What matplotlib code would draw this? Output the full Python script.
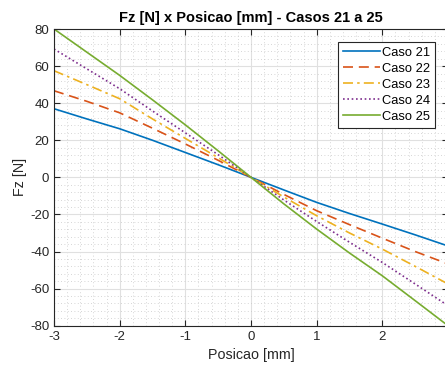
import matplotlib
matplotlib.use("Agg")
import matplotlib.pyplot as plt
from matplotlib.ticker import MultipleLocator

plt.rcParams['font.family'] = ['Liberation Sans', 'DejaVu Sans']
plt.rcParams['axes.unicode_minus'] = False

# Posicao [mm]
posicao = [-3, -2.5, -2, -1.5, -1, -0.5, 0, 0.5, 1, 1.5, 2, 2.5, 3]

# Fz [N] for each case
caso21 = [37.0, 31.5, 26.2, 20.0, 13.4, 6.8, 0, -6.8, -13.5, -19.5, -25.2, -31.0, -37.0]
caso22 = [46.7, 41.0, 34.8, 26.5, 18.0, 9.2, 0, -9.2, -18.0, -25.5, -32.8, -40.0, -46.7]
caso23 = [57.5, 50.0, 42.4, 31.5, 21.0, 10.6, 0, -10.6, -20.7, -30.0, -38.7, -48.0, -57.5]
caso24 = [69.2, 58.5, 47.8, 35.8, 24.0, 12.2, 0, -12.2, -23.8, -35.0, -45.9, -57.5, -69.2]
caso25 = [80.0, 67.5, 55.0, 41.8, 28.3, 14.3, 0, -14.3, -27.9, -40.8, -53.1, -66.5, -80.0]

labels = ['Caso 21', 'Caso 22', 'Caso 23', 'Caso 24', 'Caso 25']
series = [caso21, caso22, caso23, caso24, caso25]
colors = ['#0072BD', '#D95319', '#EDB120', '#7E2F8E', '#77AC30']
styles = ['-', (0, (6, 3.5)), (0, (6, 2.5, 1.5, 2.5)), (0, (1, 1.6)), '-']

fig = plt.figure(figsize=(4.45, 3.72), dpi=100)
ax = fig.add_axes([54 / 445, 1 - 325.7 / 372, (448 - 54) / 445, (325.7 - 29) / 372])

for ys, lab, c, ls in zip(series, labels, colors, styles):
    ax.plot(posicao, ys, color=c, linestyle=ls, linewidth=1.2, label=lab)

ax.set_xlim(-3, 3)
ax.set_ylim(-80, 80)
ax.xaxis.set_major_locator(MultipleLocator(1))
ax.yaxis.set_major_locator(MultipleLocator(20))
ax.xaxis.set_minor_locator(MultipleLocator(0.2))
ax.yaxis.set_minor_locator(MultipleLocator(4))

ax.grid(True, which='major', color='#E0E0E0', linestyle='-', linewidth=0.8)
ax.grid(True, which='minor', color='#C8C8C8', linestyle=(0, (1, 3)), linewidth=0.6)
ax.set_axisbelow(True)

ax.tick_params(which='both', direction='in', top=True, right=True, colors='#262626',
               labelsize=9.5, labelcolor='#262626')
ax.tick_params(which='major', length=4, width=0.8)
ax.tick_params(which='minor', length=0)
for s in ax.spines.values():
    s.set_color('#262626')
    s.set_linewidth(0.8)

ax.set_xlabel('Posicao [mm]', fontsize=10.3, color='#262626', labelpad=4)
ax.set_ylabel('Fz [N]', fontsize=10.3, color='#262626', labelpad=2)
ax.set_title('Fz [N] x Posicao [mm] - Casos 21 a 25', fontsize=10.5, fontweight='bold',
             color='#000000', pad=5)

leg = ax.legend(loc='upper right', bbox_to_anchor=((435 - 54) / 394, 1 - (41.7 - 29) / 296.7),
                fontsize=9.3, frameon=True, fancybox=False, handlelength=2.85,
                borderpad=0.4, labelspacing=0.3, handletextpad=0.15, borderaxespad=0)
leg.get_frame().set_edgecolor('#262626')
leg.get_frame().set_linewidth(0.8)
leg.get_frame().set_alpha(1)

fig.savefig('out.png', dpi=100)
